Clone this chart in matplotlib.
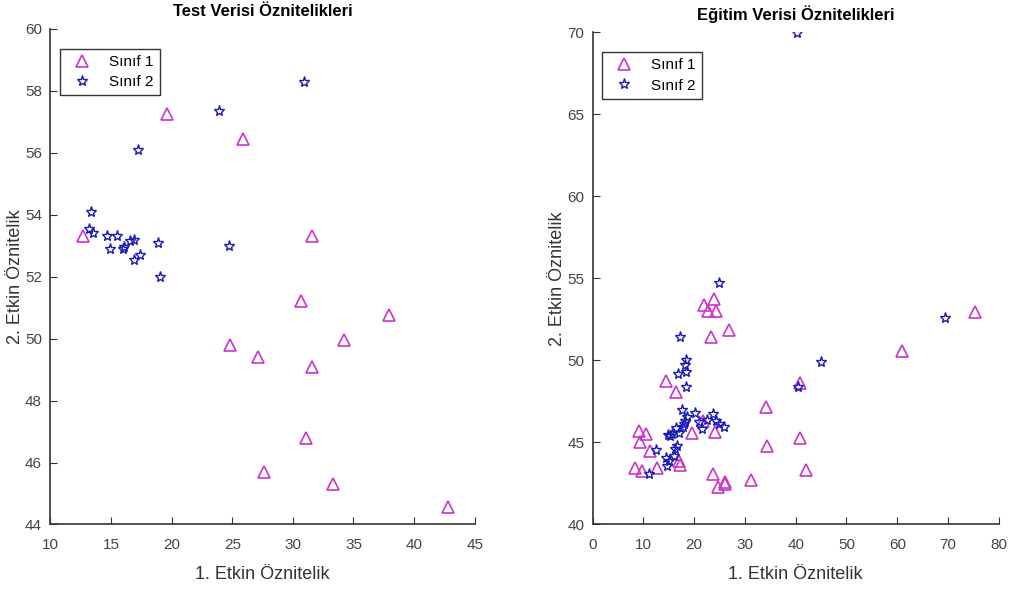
import matplotlib
matplotlib.use('Agg')
import matplotlib.pyplot as plt

plt.rcParams['font.family'] = ['Liberation Sans Narrow', 'Liberation Sans', 'DejaVu Sans']

# test verisi
x1_test = [12.7, 19.6, 25.9, 31.6, 30.7, 37.9, 24.8, 27.1, 34.2, 31.6, 31.1, 27.6, 33.3, 42.8]
y1_test = [53.3, 57.25, 56.45, 53.3, 51.2, 50.75, 49.8, 49.4, 49.95, 49.1, 46.8, 45.7, 45.3, 44.55]
x2_test = [30.9, 23.9, 17.2, 13.35, 13.2, 13.55, 14.7, 15.45, 14.95, 15.95, 16.1, 16.55, 16.9, 16.9, 17.4, 18.9, 19.0, 24.7]
y2_test = [58.3, 57.35, 56.1, 54.1, 53.55, 53.4, 53.3, 53.3, 52.9, 52.9, 52.95, 53.15, 53.2, 52.55, 52.7, 53.1, 52.0, 53.0]

# egitim verisi
x1_train = [21.9, 23.9, 22.8, 24.3, 23.3, 26.8, 14.4, 16.4, 40.8, 34.1, 9.2, 10.6, 9.3, 11.3, 19.5, 21.7,
            24.1, 34.3, 40.8, 42.0, 8.3, 9.8, 12.7, 17.1, 17.2, 23.7, 24.7, 26.0, 26.1, 31.1, 61.0, 75.4]
y1_train = [53.4, 53.75, 53.0, 53.0, 51.45, 51.85, 48.75, 48.1, 48.6, 47.15, 45.7, 45.5, 45.05, 44.5, 45.6, 46.3,
            45.65, 44.8, 45.3, 43.35, 43.45, 43.25, 43.45, 43.85, 43.65, 43.05, 42.3, 42.6, 42.45, 42.7, 50.6, 52.95]
x2_train = [40.2, 24.9, 17.2, 18.4, 18.2, 18.4, 16.9, 18.4, 44.9, 40.5, 69.4, 12.5, 11.1, 14.4, 14.6, 16.2,
            16.1, 15.6, 15.2, 14.9, 17.7, 18.2, 18.5, 17.8, 16.5, 17.1, 20.2, 20.9, 21.5, 22.5, 23.8, 24.4,
            24.9, 25.8, 15.1, 16.7, 18.0]
y2_train = [69.95, 54.7, 51.45, 50.0, 49.7, 49.3, 49.15, 48.4, 49.9, 48.4, 52.6, 44.55, 43.1, 44.05, 43.55, 44.6,
            44.15, 45.5, 45.4, 45.45, 47.0, 46.3, 46.55, 45.95, 45.9, 45.55, 46.8, 46.25, 45.85, 46.4, 46.75, 46.3,
            46.1, 45.95, 43.85, 44.8, 46.15]

MAG = '#cc33cc'
BLU = '#1a1ab8'

fig = plt.figure(figsize=(10.13, 5.95), dpi=100)
ax1 = fig.add_axes([0.0498, 0.1185, 0.4188, 0.833])
ax2 = fig.add_axes([0.585, 0.1185, 0.401, 0.827])


def style(ax, title):
    ax.set_title(title, fontsize=12, fontweight='bold', pad=9)
    ax.set_xlabel('1. Etkin Öznitelik', fontsize=13, color='#333333', labelpad=10)
    ax.set_ylabel('2. Etkin Öznitelik', fontsize=13, color='#333333', labelpad=1)
    for s in ['top', 'right']:
        ax.spines[s].set_visible(False)
    for s in ['left', 'bottom']:
        ax.spines[s].set_color('#333333')
        ax.spines[s].set_linewidth(1.2)
    ax.tick_params(direction='in', length=5, labelsize=11, colors='#333333', labelcolor='#444444')
    ax.tick_params(axis='x', pad=10)
    ax.tick_params(axis='y', pad=6)
    leg = ax.legend(loc='upper left', fontsize=11, frameon=True, fancybox=False,
                    borderpad=0.4, handletextpad=0.8, labelspacing=0.4,
                    bbox_to_anchor=(0.005, 0.975))
    leg.get_frame().set_edgecolor('black')
    leg.get_frame().set_linewidth(1.0)


ax1.plot(x1_test, y1_test, '^', ms=9, mfc='none', mec=MAG, mew=1.2, ls='none', label='Sınıf 1')
ax1.plot(x2_test, y2_test, '*', ms=8, mfc='none', mec=BLU, mew=1.0, ls='none', label='Sınıf 2')
ax1.set_xlim(10, 45)
ax1.set_ylim(44, 60)
ax1.set_xticks(range(10, 46, 5))
ax1.set_yticks(range(44, 61, 2))
style(ax1, 'Test Verisi Öznitelikleri')

ax2.plot(x1_train, y1_train, '^', ms=9, mfc='none', mec=MAG, mew=1.2, ls='none', label='Sınıf 1')
ax2.plot(x2_train, y2_train, '*', ms=8, mfc='none', mec=BLU, mew=1.0, ls='none', label='Sınıf 2')
ax2.set_xlim(0, 80)
ax2.set_ylim(40, 70)
ax2.set_xticks(range(0, 81, 10))
ax2.set_yticks(range(40, 71, 5))
style(ax2, 'Eğitim Verisi Öznitelikleri')

fig.savefig('out.png', dpi=100)
